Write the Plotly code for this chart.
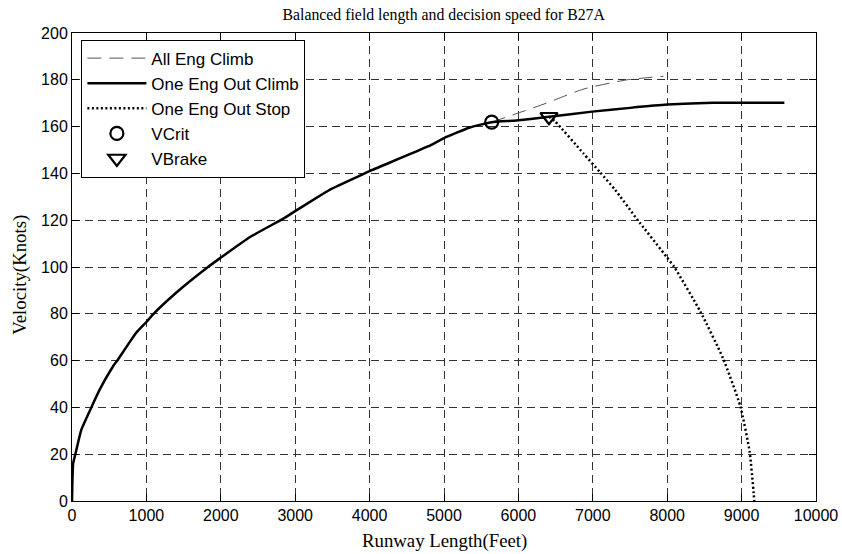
import plotly.graph_objects as go

# One engine out climb (solid)
climb_x = [0, 5, 15, 45, 126, 260, 372, 551, 619, 865, 1000, 1090, 1400, 1828, 2000,
           2388, 2858, 3000, 3463, 3934, 4000, 4785, 5000, 5345, 5641, 5973, 6411,
           6990, 7500, 8000, 8620, 9575]
climb_y = [0, 8, 16, 20, 30.5, 40, 47.6, 57.5, 60.5, 72, 76.5, 79.8, 89, 100, 104,
           112.7, 121, 123.9, 133, 140, 141, 151.5, 155.1, 159.6, 161.9, 162.6, 164.2,
           166.4, 168, 169.4, 170.2, 170.2]

# All engines climb (dashed)
all_x = [5641, 6062, 6375, 6870, 7460, 7950]
all_y = [161.9, 166.5, 170, 176, 180, 181.5]

# One engine out stop (dotted)
stop_x = [6411, 6494, 6875, 7097, 7300, 7593, 8000, 8095, 8445, 8750, 8983, 9108, 9162, 9170]
stop_y = [164.2, 162.2, 148.5, 140.5, 133, 120.5, 104, 100, 81, 61, 40.5, 21, 3.4, 0]

vcrit_x = [5641]
vcrit_y = [161.9]
vbrake_x = [6411]
vbrake_y = [164.2]

x_ticks = list(range(0, 10001, 1000))
y_ticks = list(range(0, 201, 20))

fig = go.Figure()
fig.add_trace(go.Scatter(x=all_x, y=all_y, mode="lines", name="All Eng Climb",
                         line=dict(color="#555555", width=1, dash="14px,8px",
                                   shape="spline", smoothing=0.5),
                         legendgroup="a"))
fig.add_trace(go.Scatter(x=climb_x, y=climb_y, mode="lines", name="One Eng Out Climb",
                         line=dict(color="black", width=2.5, shape="spline", smoothing=0.4),
                         legendgroup="b"))
fig.add_trace(go.Scatter(x=stop_x, y=stop_y, mode="lines", name="One Eng Out Stop",
                         line=dict(color="black", width=2.5, dash="2px,2.5px",
                                   shape="spline", smoothing=0.5),
                         legendgroup="c"))
fig.add_trace(go.Scatter(x=vcrit_x, y=vcrit_y, mode="markers", name="VCrit",
                         marker=dict(symbol="circle-open", size=13, color="black",
                                     line=dict(width=2.2, color="black")),
                         legendgroup="d"))
fig.add_trace(go.Scatter(x=vbrake_x, y=vbrake_y, mode="markers", name="VBrake",
                         marker=dict(symbol="triangle-down-open", size=15, color="black",
                                     line=dict(width=2.2, color="black")),
                         legendgroup="e"))

axis_common = dict(
    showline=True, linecolor="black", linewidth=1, mirror="ticks",
    ticks="inside", ticklen=7, tickcolor="black", tickwidth=1,
    showgrid=True, gridcolor="#333333", gridwidth=1, griddash="8px,5px",
    zeroline=False, automargin=False,
    tickfont=dict(family="Liberation Sans, Arial", size=16, color="black"),
)

fig.update_xaxes(range=[0, 10000], tickvals=x_ticks, ticktext=[str(v) for v in x_ticks],
                 **axis_common)
fig.update_yaxes(range=[0, 200], tickvals=y_ticks, ticktext=[str(v) for v in y_ticks],
                 **axis_common)

fig.update_layout(
    width=842, height=554,
    margin=dict(l=72, r=26, t=33, b=53),
    paper_bgcolor="white", plot_bgcolor="white",
    title=dict(text="Balanced field length and decision speed for B27A",
               x=0.527, xanchor="center", y=1 - 14 / 554, yanchor="middle",
               font=dict(family="Liberation Serif, Times New Roman", size=15.8, color="black")),
    legend=dict(x=0.0126, y=0.986, xanchor="left", yanchor="top",
                bgcolor="white", bordercolor="black", borderwidth=1,
                font=dict(family="Liberation Sans, Arial", size=17, color="black"),
                itemwidth=59, tracegroupgap=2, traceorder="normal"),
    showlegend=True,
    annotations=[
        dict(text="Runway Length(Feet)", xref="paper", yref="paper",
             x=0.5, y=-0.085, xanchor="center", yanchor="middle", showarrow=False,
             font=dict(family="Liberation Serif, Times New Roman", size=18.8, color="black")),
        dict(text="Velocity(Knots)", xref="paper", yref="paper",
             x=-0.0699, y=0.4835, xanchor="center", yanchor="middle", showarrow=False,
             textangle=-90,
             font=dict(family="Liberation Serif, Times New Roman", size=18.8, color="black")),
    ],
)

fig.write_html("out.html", config={"displayModeBar": False},
               post_script="document.body.style.margin='0px';document.body.style.overflow='hidden';")
